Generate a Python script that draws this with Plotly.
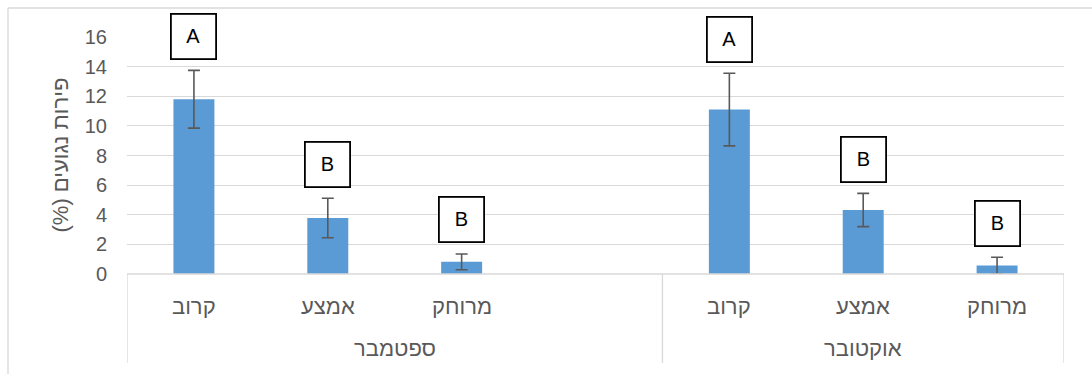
import plotly.graph_objects as go

# ---------------- data ----------------
months = ["ספטמבר", "אוקטובר"]
sites = ["קרוב", "אמצע", "מרוחק"]
sept_slots = 4          # September group has an extra empty slot
oct_slots = 3
sept_mean = [11.8, 3.78, 0.82]
sept_err = [1.95, 1.33, 0.53]
oct_mean = [11.1, 4.32, 0.57]
oct_err = [2.45, 1.12, 0.56]
sept_letters = ["A", "B", "B"]
oct_letters = ["A", "B", "B"]
y_ticks = [0, 2, 4, 6, 8, 10, 12, 14, 16]
y_title = "\u202bפירות נגועים (%)\u202c"

# ---------------- layout constants ----------------
W, H = 1092, 374
ML, MR, MT, MB = 127, 28, 37, 100
plot_h = H - MT - MB
Y_MAX = 16
FONT = "Liberation Sans, Arial, sans-serif"
GRAY_TXT = "#595959"
GRID = "#D9D9D9"
BAR = "#5B9BD5"

# slot positions
sept_x = list(range(len(sites)))
oct_x = [sept_slots + i for i in range(len(sites))]
n_slots = sept_slots + oct_slots

fig = go.Figure()
fig.add_trace(go.Bar(
    x=sept_x + oct_x,
    y=sept_mean + oct_mean,
    width=0.306,
    marker=dict(color=BAR, line=dict(width=0)),
    error_y=dict(type="data", array=sept_err + oct_err, visible=True,
                 color="#595959", thickness=1.6, width=6),
    hoverinfo="skip",
))

annotations = []
# letter boxes (placed above error bars; paper y so they may exceed the axis top)
for xs, means, errs, letters in [(sept_x, sept_mean, sept_err, sept_letters),
                                 (oct_x, oct_mean, oct_err, oct_letters)]:
    for x, m, e, L in zip(xs, means, errs, letters):
        annotations.append(dict(
            x=x, y=(m + e + 2.3) / Y_MAX, xref="x", yref="paper", text=L, showarrow=False,
            font=dict(family=FONT, size=20, color="#000000"),
            bgcolor="#FFFFFF", bordercolor="#000000", borderwidth=1.8,
            width=43, height=43, borderpad=0, xanchor="center", yanchor="middle",
        ))

# category labels
for xs in (sept_x, oct_x):
    for x, s in zip(xs, sites):
        annotations.append(dict(
            x=x, y=0, xref="x", yref="paper", yshift=-32, text=s, showarrow=False,
            font=dict(family=FONT, size=22, color=GRAY_TXT), yanchor="middle",
        ))
# group labels
group_centers = [(-0.5 + sept_slots - 0.5) / 2, (sept_slots - 0.5 + n_slots - 0.5) / 2]
for gx, mth in zip(group_centers, months):
    annotations.append(dict(
        x=gx, y=0, xref="x", yref="paper", yshift=-74, text=mth, showarrow=False,
        font=dict(family=FONT, size=22, color=GRAY_TXT), yanchor="middle",
    ))
# y axis title
annotations.append(dict(
    x=0, y=0.5, xref="paper", yref="paper", xshift=-67, text=y_title,
    textangle=-90, showarrow=False, font=dict(family=FONT, size=22, color=GRAY_TXT),
    xanchor="center", yanchor="middle",
))

shapes = []
bottom_paper = -(363 - (H - MB)) / plot_h
# category axis lines
shapes.append(dict(type="line", xref="x", yref="paper", x0=-0.5, x1=n_slots - 0.5,
                   y0=0, y1=0, line=dict(color=GRID, width=1.3)))
for vx in [-0.5, sept_slots - 0.5, n_slots - 0.5]:
    shapes.append(dict(type="line", xref="x", yref="paper", x0=vx, x1=vx,
                       y0=0, y1=bottom_paper, line=dict(color=GRID, width=1.3)))
# chart area border (top and left visible)
top_paper = 1 + (MT - 8) / plot_h
left_paper = -(ML - 8) / (W - ML - MR)
shapes.append(dict(type="line", xref="paper", yref="paper", x0=left_paper, x1=1 + MR / (W - ML - MR),
                   y0=top_paper, y1=top_paper, line=dict(color=GRID, width=1.3)))
shapes.append(dict(type="line", xref="paper", yref="paper", x0=left_paper, x1=left_paper,
                   y0=top_paper, y1=-MB / plot_h, line=dict(color=GRID, width=1.3)))

fig.update_layout(
    width=W, height=H,
    margin=dict(l=ML, r=MR, t=MT, b=MB, pad=0),
    paper_bgcolor="#FFFFFF", plot_bgcolor="#FFFFFF",
    showlegend=False,
    annotations=annotations,
    shapes=shapes,
    xaxis=dict(range=[-0.5, n_slots - 0.5], showticklabels=False, showgrid=False,
               zeroline=False, showline=False, ticks="", fixedrange=True),
    yaxis=dict(range=[0, Y_MAX], tickvals=y_ticks, showgrid=True, gridcolor=GRID, gridwidth=1.3,
               zeroline=False, showline=False, ticks="", ticklabelstandoff=19,
               tickfont=dict(family=FONT, size=20, color=GRAY_TXT), fixedrange=True),
)

fig.write_html("out.html", config={"displayModeBar": False})
